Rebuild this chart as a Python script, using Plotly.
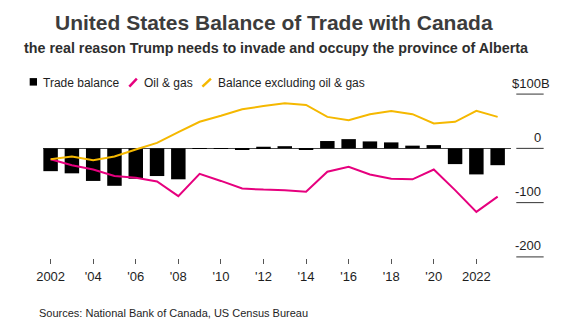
import plotly.graph_objects as go

# ---- data (US$ billions) ----
years = list(range(2002, 2024))
trade_balance = [-42, -46, -60, -69, -56, -51, -57, -1, -1, -3, 3, 4, -3,
                 13.5, 17, 12.8, 11, 5, 6, -29, -48, -31]
oil_gas = [-20, -31, -39, -51, -54, -61, -88, -47, -60, -74, -76, -77, -80,
           -43, -34, -48, -56, -57, -39, -77, -117, -89]
excl_oil_gas = [-20, -15, -22, -15, -2, 10, 30, 49, 60, 72, 78, 83, 80,
                58, 52, 63, 69, 63, 46, 49, 69, 58]

tick_years = list(range(2002, 2023, 2))
tick_text = ["2002" if y == 2002 else ("2022" if y == 2022 else "'" + str(y)[2:])
             for y in tick_years]
y_ticks = [100, 0, -100, -200]
y_tick_text = ["$100B", "0", "-100", "-200"]

title = "United States Balance of Trade with Canada"
subtitle = "the real reason Trump needs to invade and occupy the province of Alberta"
source = "Sources: National Bank of Canada, US Census Bureau"

# ---- styling ----
W, H = 576, 328
L, R, T, B = 43.3, 510.7, 92.9, 257.9
FONT = "Liberation Sans, Arial, Helvetica, sans-serif"
PINK = "#e6007e"
YELLOW = "#f5b800"
TXT = "#1e1e1e"


def px(x):
    return (x - L) / (R - L)


def py(y):
    return (B - y) / (B - T)


fig = go.Figure()
fig.add_trace(go.Bar(x=years, y=trade_balance, marker=dict(color="black", line=dict(width=0)),
                     name="Trade balance", showlegend=False))
fig.add_trace(go.Scatter(x=years, y=oil_gas, mode="lines", line=dict(color=PINK, width=2),
                         name="Oil & gas", showlegend=False))
fig.add_trace(go.Scatter(x=years, y=excl_oil_gas, mode="lines", line=dict(color=YELLOW, width=2),
                         name="Balance excluding oil & gas", showlegend=False))

shapes = []
annotations = []

# right-hand value labels with short rules beneath
for v, t in zip(y_ticks, y_tick_text):
    shapes.append(dict(type="line", xref="paper", yref="y", x0=px(516), x1=px(543.3),
                       y0=v, y1=v, line=dict(color="#333333", width=1)))
    annotations.append(dict(xref="paper", yref="y", x=px(543), y=v, text=t,
                            xanchor="right", yanchor="middle", yshift=11,
                            xshift=8.7 if t.endswith("B") else 0,
                            showarrow=False, font=dict(size=13, color=TXT, family=FONT)))

# legend keys
shapes.append(dict(type="rect", xref="paper", yref="paper", x0=px(30), x1=px(37.3),
                   y0=py(85.5), y1=py(78), fillcolor="black", line=dict(width=0)))
shapes.append(dict(type="line", xref="paper", yref="paper", x0=px(129.5), x1=px(137),
                   y0=py(86.5), y1=py(78.5), line=dict(color=PINK, width=2.5)))
shapes.append(dict(type="line", xref="paper", yref="paper", x0=px(202.5), x1=px(211),
                   y0=py(86.5), y1=py(78.5), line=dict(color=YELLOW, width=2.5)))
for xl, t in [(41.5, "Trade balance"), (142.5, "Oil & gas"), (216, "Balance excluding oil & gas")]:
    annotations.append(dict(xref="paper", yref="paper", x=px(xl), y=py(82.5), text=t,
                            xanchor="left", yanchor="middle", showarrow=False,
                            font=dict(size=12, color=TXT, family=FONT)))

# headings and source
annotations.append(dict(xref="paper", yref="paper", x=px(273.7), y=py(22), text="<b>" + title + "</b>",
                        xanchor="center", yanchor="middle", showarrow=False,
                        font=dict(size=21, color="#3c3c3c", family=FONT)))
annotations.append(dict(xref="paper", yref="paper", x=px(276.2), y=py(48), text="<b>" + subtitle + "</b>",
                        xanchor="center", yanchor="middle", showarrow=False,
                        font=dict(size=14.3, color="#2e2e2e", family=FONT)))
annotations.append(dict(xref="paper", yref="paper", x=px(37), y=py(312.6), text=source,
                        xanchor="left", yanchor="middle", showarrow=False,
                        font=dict(size=11, color=TXT, family=FONT)))

fig.update_layout(
    width=W, height=H,
    margin=dict(l=L, r=W - R, t=T, b=H - B, pad=0),
    paper_bgcolor="white", plot_bgcolor="white",
    bargap=0.32,
    showlegend=False,
    shapes=shapes, annotations=annotations,
    font=dict(family=FONT, color=TXT),
    xaxis=dict(range=[2001.643, 2023.627], tickmode="array", tickvals=tick_years, ticktext=tick_text,
               ticks="outside", ticklen=5, tickwidth=1, tickcolor="#555555",
               showgrid=False, zeroline=False, showline=False,
               tickfont=dict(size=13, color=TXT, family=FONT), ticklabelstandoff=1),
    yaxis=dict(range=[-202, 102], showticklabels=False, showgrid=False, ticks="",
               zeroline=True, zerolinecolor="#444444", zerolinewidth=1, showline=False),
)

fig.write_html("out.html")
